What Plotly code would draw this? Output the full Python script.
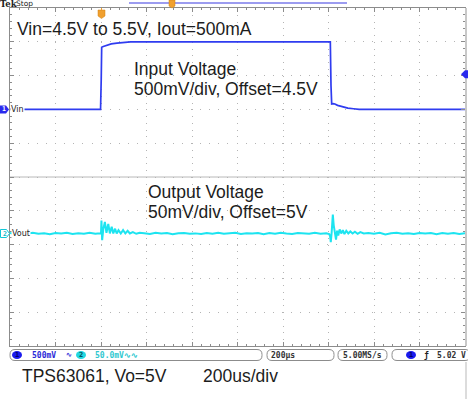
import plotly.graph_objects as go

# ---------------- data ----------------
# time in microseconds (200 us/div, 10 div)
vin_t = [0, 398, 401, 403, 410, 425, 445, 470, 500, 530, 700, 900, 1100, 1300, 1408,
         1411, 1414, 1420, 1428, 1440, 1460, 1485, 1510, 1535, 1700, 2000]
vin_v = [4.50, 4.50, 4.95, 5.42, 5.43, 5.45, 5.47, 5.48, 5.49, 5.50, 5.50, 5.50, 5.50, 5.50, 5.50,
         4.85, 4.58, 4.585, 4.58, 4.56, 4.54, 4.52, 4.51, 4.50, 4.50, 4.50]

# Vout deviation from 5 V offset, in mV (50 mV/div)
vout_t = [0, 25, 50, 75, 100, 125, 150, 175, 200, 225, 250, 275, 300, 325, 350, 375, 396,
          400, 402, 405, 410, 417, 424, 432, 439, 447, 454, 462, 469, 477, 487, 497, 507, 517, 527, 540, 555, 570,
          590, 615, 640, 665, 690, 715, 740, 765, 790, 815, 840, 865, 890, 915, 940, 965, 990,
          1015, 1040, 1065, 1090, 1115, 1140, 1165, 1190, 1215, 1240, 1265, 1290, 1315, 1340, 1365, 1390,
          1403, 1407, 1410, 1414, 1419, 1423, 1428, 1433, 1438, 1443, 1449, 1456, 1463, 1470, 1478, 1487,
          1496, 1506, 1516, 1528, 1540, 1555,
          1575, 1600, 1625, 1650, 1675, 1700, 1725, 1750, 1775, 1800, 1825, 1850, 1875, 1900, 1925,
          1950, 1975, 2000]
vout_mv = [0.6, -0.9, 0.8, -0.3, 1.0, -0.6, 0.2, -1.1, 0.7, -0.2, 0.9, -0.8, 0.3, -0.5, 1.0, -0.4, 0.2,
           0.0, 19, -10, 6, 17, 1, 14, 0, 10, 0, 7, 0, 5, 0, 5, 0, 4, 0, 2, -0.5, 1,
           0.4, -0.7, 0.9, -0.2, 0.6, -1.0, 0.3, 0.8, -0.5, 0.1, -0.9, 0.7, -0.3, 1.0, -0.6, 0.2, 0.9,
           -0.8, 0.4, -0.2, 0.8, -1.0, 0.5, -0.4, 0.9, -0.1, -0.8, 0.6, 0.2, -0.6, 1.0, -0.3, 0.4,
           -1, -4, -13, 2, 28, 12, -2, -9, 4, -3, 6, 0, 5, -1, 4, 0,
           3, 0, 2.5, -0.5, 2, 0,
           0.6, -0.5, 0.9, -1.5, 0.3, 1.0, -0.4, 0.2, -0.9, 0.7, -0.2, 0.5, -1.0, 0.8, -0.3,
           0.6, -0.7, 0.4]

ch1_scale = "500mV"
ch2_scale = "50.0mV∿∿"
timebase = "200µs"
sample_rate = "5.00MS/s"
trigger_level = 5.02
trigger_text = "5.02 V"

title_text = "Vin=4.5V to 5.5V, Iout=500mA"
ch1_text = ["Input Voltage", "500mV/div, Offset=4.5V"]
ch2_text = ["Output Voltage", "50mV/div, Offset=5V"]
foot_left = "TPS63061, Vo=5V"
foot_right = "200us/div"

# ---------------- layout helpers ----------------
W, H = 468, 401
L, R, T, B = 10, 3, 8, 55
PW, PH = W - L - R, H - T - B
VIN_RANGE = [1.0, 6.0]


def fx(x):
    return (x - L) / PW


def fy(y):
    return (H - B - y) / PH


VIN_C = "#2f3cf0"
VOUT_C = "#1de4f0"
GRID = "#b4b4b4"
FRAME = "#8c8c8c"
TXT = "#1c1c1c"
MAIN_FONT = "Liberation Sans, Arial, sans-serif"
MONO = "DejaVu Sans Mono, monospace"

fig = go.Figure()
fig.add_trace(go.Scatter(x=vin_t, y=vin_v, mode="lines", yaxis="y",
                         line=dict(color=VIN_C, width=1.7), hoverinfo="skip"))
fig.add_trace(go.Scatter(x=vout_t, y=vout_mv, mode="lines", yaxis="y2",
                         line=dict(color=VOUT_C, width=2.0), hoverinfo="skip"))

shapes = []
anns = []


def ann(x, y, text, size=17.5, color=TXT, family=MAIN_FONT, xanchor="left", bg=None):
    d = dict(x=fx(x), y=fy(y), xref="paper", yref="paper", text=text, showarrow=False,
             xanchor=xanchor, yanchor="middle", font=dict(size=size, color=color, family=family),
             borderpad=0)
    if bg:
        d["bgcolor"] = bg
    anns.append(d)


def rpath(x0, y0, x1, y1, r):
    pts = (f"M {fx(x0 + r)},{fy(y0)} L {fx(x1 - r)},{fy(y0)} "
           f"Q {fx(x1)},{fy(y0)} {fx(x1)},{fy(y0 + r)} L {fx(x1)},{fy(y1 - r)} "
           f"Q {fx(x1)},{fy(y1)} {fx(x1 - r)},{fy(y1)} L {fx(x0 + r)},{fy(y1)} "
           f"Q {fx(x0)},{fy(y1)} {fx(x0)},{fy(y1 - r)} L {fx(x0)},{fy(y0 + r)} "
           f"Q {fx(x0)},{fy(y0)} {fx(x0 + r)},{fy(y0)} Z")
    return pts


def poly(points):
    s = "M " + " L ".join(f"{fx(a)},{fy(b)}" for a, b in points) + " Z"
    return s


# center horizontal line
shapes.append(dict(type="line", xref="paper", yref="paper", x0=0, x1=1, y0=0.5, y1=0.5,
                   line=dict(color="#b8b8b8", width=1), layer="below"))
# right edge light bar
shapes.append(dict(type="line", xref="paper", yref="paper", x0=fx(466), x1=fx(466), y0=fy(8), y1=fy(346),
                   line=dict(color="#c8c8c8", width=2)))
shapes.append(dict(type="line", xref="paper", yref="paper", x0=fx(466), x1=fx(466), y0=fy(362), y1=fy(399),
                   line=dict(color="#d0d0d0", width=1.5)))

# top record bar and trigger markers
shapes.append(dict(type="line", xref="paper", yref="paper", x0=fx(129), x1=fx(347), y0=fy(3), y1=fy(3),
                   line=dict(color="#9c9cf0", width=2)))
shapes.append(dict(type="path", xref="paper", yref="paper",
                   path=poly([(169, 0), (175, 0), (175, 6), (172, 8), (169, 6)]),
                   fillcolor="#f0a030", line=dict(color="#d08010", width=0.5)))
shapes.append(dict(type="path", xref="paper", yref="paper",
                   path=poly([(98, 10), (105, 10), (105, 16), (101.5, 18.5), (98, 16)]),
                   fillcolor="#f0a030", line=dict(color="#d08010", width=0.5)))
shapes.append(dict(type="line", xref="paper", yref="paper", x0=fx(101.5), x1=fx(101.5), y0=fy(8), y1=fy(10),
                   line=dict(color="#f0a030", width=1)))

# trigger level marker on right (ch1 scale)
ty = T + (VIN_RANGE[1] - trigger_level) / (VIN_RANGE[1] - VIN_RANGE[0]) * PH
shapes.append(dict(type="path", xref="paper", yref="paper",
                   path=poly([(461, ty), (465, ty - 4), (468, ty - 4), (468, ty + 4), (465, ty + 4)]),
                   fillcolor="#2a2aee", line=dict(width=0)))

# channel markers on left
vin_y = T + (VIN_RANGE[1] - 4.5) / (VIN_RANGE[1] - VIN_RANGE[0]) * PH
vout_y = 233.5
shapes.append(dict(type="path", xref="paper", yref="paper",
                   path=poly([(0, vin_y - 4), (6, vin_y - 4), (9, vin_y), (6, vin_y + 4), (0, vin_y + 4)]),
                   fillcolor="#2a2aee", line=dict(width=0)))
shapes.append(dict(type="path", xref="paper", yref="paper",
                   path=poly([(0.5, vout_y - 4), (6.5, vout_y - 4), (9.5, vout_y), (6.5, vout_y + 4), (0.5, vout_y + 4)]),
                   fillcolor="white", line=dict(color="#10c8d8", width=1)))

# status bar boxes
for (x0, x1) in [(10, 262), (267, 334), (338, 387), (392, 470)]:
    shapes.append(dict(type="path", xref="paper", yref="paper", path=rpath(x0, 349.5, x1, 360.5, 5),
                       fillcolor="white", line=dict(color="#8c8c8c", width=1)))
for (cx, col) in [(17, "#1a1aee"), (81, "#22d8e0"), (411, "#1a1aee")]:
    shapes.append(dict(type="circle", xref="paper", yref="paper", x0=fx(cx - 5), x1=fx(cx + 5),
                       y0=fy(351), y1=fy(359), fillcolor=col, line=dict(width=0)))

# ---- annotations ----
ann(-1, 3.5, "<b>Tek</b>", size=8.5, color="#222", family="DejaVu Serif, serif")
ann(15, 3.5, "Stop", size=7.5, color="#222", family="DejaVu Sans, sans-serif")

ann(4, vin_y, "<b>1</b>", size=6.5, color="white", family=MONO, xanchor="center")
ann(10, vin_y, "Vin", size=8, color="#222", family="DejaVu Sans, sans-serif", bg="white")
ann(5, vout_y, "<b>2</b>", size=6.5, color="#10b8c8", family=MONO, xanchor="center")
ann(11, vout_y, "Vout", size=8, color="#222", family="DejaVu Sans, sans-serif", bg="white")

ann(16, 29, title_text)
ann(133, 69, ch1_text[0])
ann(133, 89, ch1_text[1])
ann(147, 192, ch2_text[0])
ann(147, 212, ch2_text[1])
ann(21, 376, foot_left)
ann(202, 376, foot_right)

ann(17, 355, "<b>1</b>", size=7, color="#000066", family=MONO, xanchor="center")
ann(31, 355, "<b>" + ch1_scale + "</b>", size=8, color="#2a2ad8", family=MONO)
ann(65, 355, "<b>∿</b>", size=7, color="#2a2ad8", family=MONO)
ann(81, 355, "<b>2</b>", size=7, color="#005560", family=MONO, xanchor="center")
ann(94, 355, "<b>" + ch2_scale + "</b>", size=8, color="#30c8d0", family=MONO)
ann(270, 355, "<b>" + timebase + "</b>", size=8, color="#333", family=MONO)
ann(342, 355, "<b>" + sample_rate + "</b>", size=8, color="#333", family=MONO)
ann(411, 355, "<b>1</b>", size=7, color="#000066", family=MONO, xanchor="center")
ann(423, 355, "<b>ƒ</b>", size=8, color="#222", family=MONO)
ann(436, 355, "<b>" + trigger_text + "</b>", size=8, color="#333", family=MONO)

fig.update_layout(
    width=W, height=H,
    margin=dict(l=L, r=R, t=T, b=B, pad=0),
    paper_bgcolor="white", plot_bgcolor="white",
    showlegend=False,
    xaxis=dict(range=[0, 2000], dtick=200, tick0=0, showgrid=True, gridcolor=GRID,
               griddash="1px,5.76px", gridwidth=1, zeroline=False, showticklabels=False,
               ticks="inside", ticklen=4, tickcolor=FRAME, showline=True, linecolor=FRAME,
               linewidth=1, mirror="ticks", fixedrange=True,
               minor=dict(ticks="inside", ticklen=2, dtick=40, tick0=0, tickcolor=FRAME, showgrid=False)),
    yaxis=dict(range=VIN_RANGE, dtick=0.5, tick0=1.0, showgrid=True, gridcolor=GRID,
               griddash="1px,8.06px", gridwidth=1, zeroline=False, showticklabels=False,
               ticks="inside", ticklen=4, tickcolor=FRAME, showline=True, linecolor=FRAME,
               linewidth=1, mirror="ticks", fixedrange=True,
               minor=dict(ticks="inside", ticklen=2, dtick=0.1, tick0=1.0, tickcolor=FRAME, showgrid=False)),
    yaxis2=dict(range=[-166.5, 333.5], overlaying="y", visible=False, fixedrange=True),
    shapes=shapes,
    annotations=anns,
)

fig.write_html("out.html", config={"displayModeBar": False},
               post_script="document.body.style.margin='0px';document.body.style.overflow='hidden';")
